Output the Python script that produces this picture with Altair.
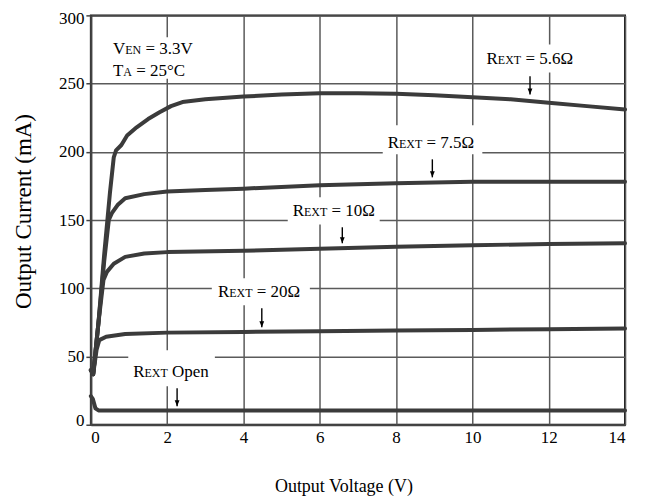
import altair as alt
import pandas as pd

# ---- curve data (Output Voltage V, Output Current mA) ----
v56 = [0, 0.06, 0.2, 0.35, 0.5, 0.6, 0.66, 0.8, 0.95, 1.2, 1.5, 1.8, 2.1, 2.4, 3, 4, 5, 6, 7, 8, 9, 10, 11, 12, 13, 14]
i56 = [40, 37, 75, 125, 170, 196, 201, 205, 212, 218, 224, 229, 233.5, 236.5, 238.5, 240.5, 242, 243, 243, 242.5, 241.5, 240, 238.5, 236, 233.5, 231]

v75 = [0, 0.06, 0.2, 0.35, 0.47, 0.55, 0.7, 0.9, 1.4, 2, 3, 4, 6, 8, 10, 12, 14]
i75 = [40, 37, 75, 120, 150, 155, 161, 166, 169, 171, 172, 173, 175.5, 177, 178, 178, 178]

v10 = [0, 0.06, 0.2, 0.33, 0.42, 0.6, 0.9, 1.4, 2, 4, 6, 8, 10, 12, 14]
i10 = [40, 37, 75, 106, 112, 118, 123, 125.5, 126.5, 127.5, 129, 130.5, 131.5, 132.5, 133]

v20 = [0, 0.06, 0.15, 0.22, 0.4, 0.9, 2, 4, 6, 8, 10, 12, 14]
i20 = [40, 37, 55, 62, 64.5, 66.5, 67.5, 68, 68.5, 69, 69.5, 70, 70.5]

vop = [0, 0.05, 0.12, 0.2, 0.5, 2, 6, 10, 14]
iop = [21, 19, 12, 10.5, 10.5, 10.5, 10.5, 10.5, 10.5]

x_ticks = [0, 2, 4, 6, 8, 10, 12, 14]
y_ticks = [0, 50, 100, 150, 200, 250, 300]

# ---- annotations ----
lab_main = ["V", "T", "R", "R", "R", "R", "R"]
lab_sub = ["EN", "A", "EXT", "EXT", "EXT", "EXT", "EXT"]
lab_rest = ["= 3.3V", "= 25°C", "= 5.6Ω", "= 7.5Ω", "= 10Ω", "= 20Ω", "Open"]
lab_x = [0.58, 0.58, 10.37, 7.78, 5.29, 3.33, 1.11]        # left edge (V)
lab_y = [271.4, 255.3, 264.5, 203.1, 153.1, 93.4, 35.0]   # baseline (mA)

# white boxes behind labels
box_x1 = [0.45, 10.24, 7.65, 5.16, 3.17, 0.98]
box_x2 = [2.75, 12.80, 10.26, 7.57, 5.74, 3.25]
box_y1 = [253.5, 258.2, 198.2, 146.7, 87.5, 28.2]
box_y2 = [284.0, 278.7, 219.4, 166.7, 107.3, 54.6]

# arrows
arr_x = [11.51, 8.95, 6.59, 4.48, 2.26]
arr_top = [255.3, 194.5, 144.7, 85.3, 26.7]
arr_bot = [242.1, 181.3, 133.0, 71.4, 13.6]

# ---- build tables ----
rows = []
for name, vs, cs in [("5.6", v56, i56), ("7.5", v75, i75), ("10", v10, i10),
                     ("20", v20, i20), ("open", vop, iop)]:
    for k, (a, b) in enumerate(zip(vs, cs)):
        rows.append({"series": name, "v": a, "i": b, "k": k})
curves = pd.DataFrame(rows)

W, H = 535, 410
px_per_v = W / 14.0
BIG, SMALL = 17, 12
adv = {"R": .667, "E": .611, "X": .722, "T": .611, "N": .722, "V": .722, "A": .722,
       " ": .25, "=": .564, ".": .25, "Ω": .768, "°": .4, "C": .667, "O": .722,
       "p": .5, "e": .444, "n": .5}
def tw(s, size):
    return sum(adv.get(ch, .5) for ch in s) * size

big_rows, small_rows = [], []
for m, s, r, x0, y0 in zip(lab_main, lab_sub, lab_rest, lab_x, lab_y):
    w1 = tw(m, BIG)
    w2 = tw(s, SMALL)
    gap = tw(" ", BIG)
    big_rows.append({"x": x0, "y": y0, "t": m})
    small_rows.append({"x": x0 + w1 / px_per_v, "y": y0, "t": s})
    big_rows.append({"x": x0 + (w1 + w2 + gap) / px_per_v, "y": y0, "t": r})
big_df = pd.DataFrame(big_rows)
small_df = pd.DataFrame(small_rows)

boxes = pd.DataFrame({"x1": box_x1, "x2": box_x2, "y1": box_y1, "y2": box_y2})
arrows = pd.DataFrame({"x": arr_x, "yt": arr_top, "yb": arr_bot})

FONT = "Liberation Serif"
xs = alt.Scale(domain=[0, 14], nice=False, zero=False)
ys = alt.Scale(domain=[0, 300], nice=False, zero=False)

x_axis = alt.Axis(
    values=x_ticks, grid=True, ticks=False, labelPadding=5,
    title="Output Voltage (V)", titleX=253, titleY=67,
    titleBaseline="alphabetic", titleAlign="center", titleFontSize=18)
y_axis = alt.Axis(
    values=y_ticks, grid=True, ticks=True, tickSize=5, labelPadding=2,
    labelFlush=True, labelFlushOffset=5,
    title="Output Current (mA)", titleX=-60, titleY=196, titleAngle=270,
    titleBaseline="alphabetic", titleAlign="center", titleFontSize=23)

rects = alt.Chart(boxes).mark_rect(color="white").encode(
    x=alt.X("x1:Q", scale=xs, axis=x_axis), x2="x2:Q",
    y=alt.Y("y1:Q", scale=ys, axis=y_axis), y2="y2:Q",
)

lines = alt.Chart(curves).mark_line(
    color="#3b3b3b", strokeWidth=4, strokeJoin="round", strokeCap="round"
).encode(
    x=alt.X("v:Q", scale=xs, axis=x_axis),
    y=alt.Y("i:Q", scale=ys, axis=y_axis),
    detail="series:N",
    order="k:Q",
)

big_text = alt.Chart(big_df).mark_text(
    align="left", baseline="alphabetic", font=FONT, fontSize=BIG, color="black"
).encode(x=alt.X("x:Q", scale=xs, axis=x_axis), y=alt.Y("y:Q", scale=ys, axis=y_axis), text="t:N")

small_text = alt.Chart(small_df).mark_text(
    align="left", baseline="alphabetic", font=FONT, fontSize=SMALL, color="black"
).encode(x=alt.X("x:Q", scale=xs, axis=x_axis), y=alt.Y("y:Q", scale=ys, axis=y_axis), text="t:N")

arrow_shaft = alt.Chart(arrows).mark_rule(color="black", strokeWidth=1.4).encode(
    x=alt.X("x:Q", scale=xs, axis=x_axis),
    y=alt.Y("yt:Q", scale=ys, axis=y_axis), y2="yb:Q",
)
arrow_head = alt.Chart(arrows).mark_point(
    shape="M-0.4,-1L0.4,-1L0,0Z", filled=True, color="black", size=144, opacity=1, strokeWidth=0
).encode(
    x=alt.X("x:Q", scale=xs, axis=x_axis),
    y=alt.Y("yb:Q", scale=ys, axis=y_axis),
)

chart = alt.layer(rects, lines, big_text, small_text, arrow_shaft, arrow_head).properties(
    width=W, height=H,
    autosize=alt.AutoSizeParams(type="none"),
    padding={"left": 83, "top": 7, "right": 14, "bottom": 74},
).configure_view(
    stroke="#111111", strokeWidth=2
).configure_axis(
    labelFont=FONT, titleFont=FONT, labelFontSize=17, labelColor="black",
    titleColor="black", titleFontWeight="normal",
    gridColor="#5a5a5a", gridWidth=1.5, gridOpacity=1,
    domainColor="#444444", domainWidth=2,
    tickColor="#444444", tickWidth=1.5,
)

chart.save("out.html", embed_options={"renderer": "svg", "actions": False})
